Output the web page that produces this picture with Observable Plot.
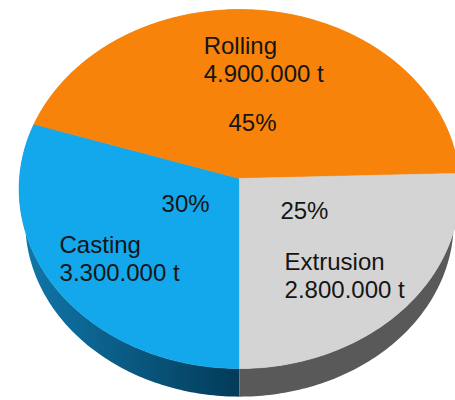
<!DOCTYPE html>
<html>
<head>
<meta charset="utf-8">
<script src="https://cdn.jsdelivr.net/npm/d3@7"></script>
<script src="https://cdn.jsdelivr.net/npm/@observablehq/plot@0.6"></script>
<style>
  html, body { margin: 0; padding: 0; background: #fff; }
  svg { display: block; }
</style>
</head>
<body>
<div id="chart"></div>
<script>
// Aluminium processing routes, in tonnes, clockwise from the bottom of the pie.
const routes = ["Casting", "Rolling", "Extrusion"];
const tonnes = [3300000, 4900000, 2800000];
const tonneLabels = ["3.300.000 t", "4.900.000 t", "2.800.000 t"];
const shares = ["30%", "45%", "25%"];

// Appearance and placement, kept apart from the figures above.
const topColors = ["#13a7eb", "#f7830b", "#d4d4d4"];
const sideColors = ["url(#casting-side)", "#f7830b", "#595959"];
const nameSpots = [[-0.818, 0.445], [-0.163, -0.669], [0.205, 0.537]];
const shareSpots = [[-0.245, 0.145], [0.059, -0.307], [0.295, 0.184]];

// Tilted disc: a perspective divide makes the near rim larger than the far rim.
const perspective = 0.0585;
const depthOffset = 0.187;
const depthScale = 0.972;

function rimPoint(angle, level) {
  const X = -Math.sin(angle), Y = Math.cos(angle);
  const w = 1 - perspective * Y;
  const s = level === 0 ? 1 : depthScale;
  return {x: s * X / w, y: s * Y / w + level * depthOffset};
}

function arcPoints(a0, a1, level) {
  const steps = Math.max(2, Math.ceil((a1 - a0) * 60));
  return d3.range(steps + 1).map((i) => rimPoint(a0 + (a1 - a0) * i / steps, level));
}

const slices = d3.pie().sort(null).startAngle(0).endAngle(2 * Math.PI)(tonnes);

const sideMarks = slices.map((s, i) => {
  const ring = [...arcPoints(s.startAngle, s.endAngle, 0), ...arcPoints(s.startAngle, s.endAngle, 1).reverse()];
  return Plot.line([...ring, ring[0]], {x: "x", y: "y", fill: sideColors[i], stroke: "none"});
});

const topMarks = slices.map((s, i) => {
  const wedge = [{x: 0, y: 0}, ...arcPoints(s.startAngle, s.endAngle, 0), {x: 0, y: 0}];
  return Plot.line(wedge, {x: "x", y: "y", fill: topColors[i], stroke: topColors[i], strokeWidth: 0.6});
});

const nameRows = routes.map((r, i) => ({
  text: `${r}\n${tonneLabels[i]}`, x: nameSpots[i][0], y: nameSpots[i][1]
}));
const shareRows = shares.map((t, i) => ({text: t, x: shareSpots[i][0], y: shareSpots[i][1]}));

const textStyle = {fontFamily: "'Liberation Sans', Arial, sans-serif", fontSize: 24, fill: "#151515"};

// Shaded wall under the Casting slice, darkening toward the front of the pie.
const gradients = () => {
  const defs = d3.create("svg:defs");
  const g = defs.append("linearGradient").attr("id", "casting-side")
    .attr("x1", 0).attr("y1", 0).attr("x2", 1).attr("y2", 0);
  g.append("stop").attr("offset", 0).attr("stop-color", "#1078ab");
  g.append("stop").attr("offset", 1).attr("stop-color", "#033b58");
  return defs.node();
};

const plot = Plot.plot({
  width: 455,
  height: 400,
  margin: 0,
  style: {background: "#fff"},
  x: {axis: null, domain: [-1, 1], range: [19, 459]},
  y: {axis: null, domain: [-1, 1], range: [-0.9, 356.9]},
  marks: [
    gradients,
    ...sideMarks,
    ...topMarks,
    Plot.text(nameRows, {x: "x", y: "y", text: "text", textAnchor: "start", lineHeight: 1.167, ...textStyle}),
    Plot.text(shareRows, {x: "x", y: "y", text: "text", ...textStyle})
  ]
});

document.getElementById("chart").appendChild(plot);
</script>
</body>
</html>
